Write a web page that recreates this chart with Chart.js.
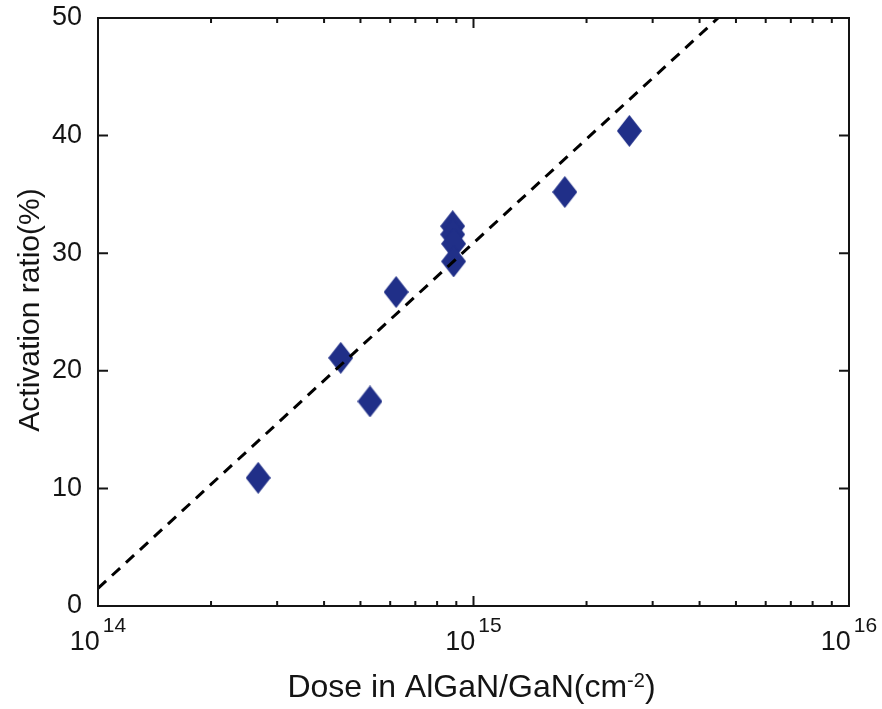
<!DOCTYPE html>
<html>
<head>
<meta charset="utf-8">
<script src="https://cdn.jsdelivr.net/npm/chart.js@4/dist/chart.umd.min.js"></script>
<style>
  html, body { margin: 0; padding: 0; background: #fff; }
  #wrap { width: 882px; height: 709px; }
</style>
</head>
<body>
<div id="wrap"><canvas id="c" width="882" height="709"></canvas></div>
<script>
// Measured activation ratio vs. implanted dose
const doses  = [2.67e14, 4.43e14, 5.30e14, 6.22e14, 8.8e14, 8.8e14, 8.85e14, 8.85e14, 1.75e15, 2.60e15];
const ratios = [10.9, 21.1, 17.4, 26.7, 32.3, 31.6, 30.8, 29.3, 35.2, 40.4];

// Linear-in-log(dose) trend line end points
const fitDose  = [1e14, 4.48e15];
const fitRatio = [1.5, 50];

// Axis ticks
const yTicks = [0, 10, 20, 30, 40, 50];
const xDecades = [14, 15, 16];

const FONT = "'Liberation Sans', Arial, Helvetica, sans-serif";
const INK = '#141414';
const MARK = '#202f88';

// Tall diamond marker
function diamond(w, h, color) {
  const c = document.createElement('canvas');
  c.width = w; c.height = h;
  const g = c.getContext('2d');
  g.fillStyle = color;
  g.beginPath();
  g.moveTo(w / 2, 0);
  g.lineTo(w, h / 2);
  g.lineTo(w / 2, h);
  g.lineTo(0, h / 2);
  g.closePath();
  g.fill();
  return c;
}
const diamondMark = diamond(25, 32, MARK);

// Frame, inward ticks, exponent tick labels and axis titles
const framePlugin = {
  id: 'frame',
  afterDraw(chart) {
    const { ctx, chartArea: a, scales } = chart;
    const xs = scales.x, ys = scales.y;
    ctx.save();
    ctx.strokeStyle = INK;
    ctx.lineWidth = 2;
    ctx.strokeRect(a.left, a.top, a.right - a.left, a.bottom - a.top);

    ctx.beginPath();
    // y ticks, both sides
    yTicks.forEach(v => {
      const py = ys.getPixelForValue(v);
      ctx.moveTo(a.left, py); ctx.lineTo(a.left + 10, py);
      ctx.moveTo(a.right, py); ctx.lineTo(a.right - 10, py);
    });
    // x ticks (major + minor), bottom and top
    for (let d = xDecades[0]; d < xDecades[xDecades.length - 1]; d++) {
      for (let m = 1; m <= 9; m++) {
        const px = xs.getPixelForValue(m * Math.pow(10, d));
        const len = m === 1 ? 10 : 5;
        ctx.moveTo(px, a.bottom); ctx.lineTo(px, a.bottom - len);
        ctx.moveTo(px, a.top); ctx.lineTo(px, a.top + len);
      }
    }
    ctx.stroke();

    ctx.fillStyle = INK;
    ctx.textBaseline = 'alphabetic';
    ctx.textAlign = 'left';
    // x tick labels 10^n
    xDecades.forEach(d => {
      const px = xs.getPixelForValue(Math.pow(10, d));
      ctx.font = '27px ' + FONT;
      const wb = ctx.measureText('10').width;
      ctx.font = '21px ' + FONT;
      const we = ctx.measureText(String(d)).width;
      const x0 = px - (wb + 3 + we) / 2;
      ctx.font = '27px ' + FONT;
      ctx.fillText('10', x0, 650);
      ctx.font = '21px ' + FONT;
      ctx.fillText(String(d), x0 + wb + 3, 632);
    });

    // x title with superscript
    const parts = [['Dose in AlGaN/GaN(cm', 32, 0], ['-2', 20, -10], [')', 32, 0]];
    let total = 0;
    parts.forEach(p => { ctx.font = p[1] + 'px ' + FONT; total += ctx.measureText(p[0]).width; });
    let tx = 471.5 - total / 2;
    parts.forEach(p => {
      ctx.font = p[1] + 'px ' + FONT;
      ctx.fillText(p[0], tx, 697 + p[2]);
      tx += ctx.measureText(p[0]).width;
    });

    // y title
    ctx.translate(31, 310);
    ctx.rotate(-Math.PI / 2);
    ctx.textAlign = 'center';
    ctx.textBaseline = 'middle';
    ctx.font = '30px ' + FONT;
    ctx.fillText('Activation ratio(%)', 0, 0);
    ctx.restore();
  }
};

new Chart(document.getElementById('c'), {
  type: 'scatter',
  data: {
    datasets: [
      {
        label: 'fit',
        type: 'line',
        data: fitDose.map((x, i) => ({ x, y: fitRatio[i] })),
        borderColor: '#000',
        borderWidth: 3,
        borderDash: [11, 8],
        pointRadius: 0,
        fill: false
      },
      {
        label: 'data',
        data: doses.map((x, i) => ({ x, y: ratios[i] })),
        pointStyle: diamondMark,
        pointRadius: 14,
        backgroundColor: MARK,
        borderColor: MARK
      }
    ]
  },
  options: {
    responsive: false,
    animation: false,
    devicePixelRatio: 1,
    layout: { padding: { top: 18, right: 33, left: 0, bottom: 0 } },
    plugins: { legend: { display: false }, tooltip: { enabled: false } },
    scales: {
      x: {
        type: 'logarithmic',
        min: 1e14,
        max: 1e16,
        grid: { display: false },
        border: { display: false },
        ticks: { display: false },
        afterFit: s => { s.height = 103; s.paddingLeft = 0; s.paddingRight = 0; }
      },
      y: {
        min: 0,
        max: 50,
        grid: { display: false, drawTicks: false },
        border: { display: false },
        afterBuildTicks: s => { s.ticks = yTicks.map(v => ({ value: v })); },
        ticks: {
          padding: 16,
          color: INK,
          font: { family: FONT, size: 27 }
        },
        afterFit: s => { s.width = 98; s.paddingTop = 0; s.paddingBottom = 0; }
      }
    }
  },
  plugins: [framePlugin]
});
</script>
</body>
</html>
